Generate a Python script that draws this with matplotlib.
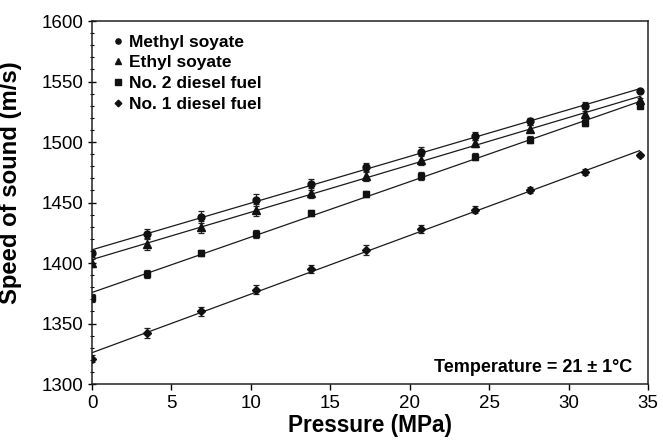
import numpy as np
import matplotlib
matplotlib.use("Agg")
import matplotlib.pyplot as plt
from matplotlib.ticker import MultipleLocator

plt.rcParams['font.family'] = ['Liberation Sans', 'DejaVu Sans']

pressure = [0, 3.45, 6.89, 10.34, 13.79, 17.24, 20.68, 24.13, 27.58, 31.03, 34.47]
methyl = [1408, 1424, 1438, 1452, 1465, 1479, 1492, 1505, 1517, 1530, 1542]
ethyl = [1400, 1416, 1430, 1444, 1458, 1472, 1485, 1499, 1511, 1523, 1535]
diesel2 = [1371, 1391, 1408, 1424, 1441, 1457, 1472, 1488, 1502, 1516, 1530]
diesel1 = [1321, 1342, 1360, 1378, 1395, 1411, 1428, 1444, 1460, 1475, 1489]
err_methyl = [3, 4.5, 5, 5, 4.5, 4, 3.5, 3.5, 3, 3, 1]
err_ethyl = [3, 5, 5, 5, 4, 4, 4, 3, 3, 3, 1]
err_diesel2 = [3, 3, 2.5, 3, 2.5, 2.5, 3, 2.5, 3, 3, 1]
err_diesel1 = [3, 4, 3.5, 4, 3.5, 4, 3.5, 3, 2.5, 2.5, 1]
labels = ["Methyl soyate", "Ethyl soyate", "No. 2 diesel fuel", "No. 1 diesel fuel"]

series = [methyl, ethyl, diesel2, diesel1]
errs = [err_methyl, err_ethyl, err_diesel2, err_diesel1]
markers = ['o', '^', 's', 'D']
msizes = [5, 5.5, 5, 4.5]

fig = plt.figure(figsize=(6.63, 4.40), dpi=100)
ax = fig.add_axes([92/663, 1-384/440, (648-92)/663, (384-21)/440])

x = np.array(pressure)
handles = []
for vals, e, m, ms, lab in zip(series, errs, markers, msizes, labels):
    y = np.array(vals)
    k, b = np.polyfit(x, y, 1)
    xx = np.array([0, x.max()])
    ax.plot(xx, k*xx + b, color='#1a1a1a', lw=0.9, zorder=2)
    ax.errorbar(x, y, yerr=e, fmt=m, ms=ms, color='#111111', ecolor='#222222',
                elinewidth=0.9, capsize=2.2, capthick=0.9, zorder=3)
    h, = ax.plot([], [], m, ms=ms*0.75, color='#111111', linestyle='none', label=lab)
    handles.append(h)

ax.set_xlim(0, 35)
ax.set_ylim(1300, 1600)
ax.xaxis.set_major_locator(MultipleLocator(5))
ax.yaxis.set_major_locator(MultipleLocator(50))
ax.yaxis.set_minor_locator(MultipleLocator(10))
ax.tick_params(axis='x', which='major', direction='out', length=4, width=1, labelsize=13.5, pad=4,
               labelcolor='black')
ax.tick_params(axis='y', which='major', direction='inout', length=6, width=1, labelsize=13.5, pad=3,
               labelcolor='black')
ax.tick_params(axis='y', which='minor', direction='inout', length=3, width=0.8)
for lbl in ax.get_xticklabels() + ax.get_yticklabels():
    lbl.set_fontweight('medium')
for sp in ax.spines.values():
    sp.set_linewidth(1.1)
    sp.set_color('#222222')

ax.set_xlabel("Pressure (MPa)", fontsize=16.3, fontweight='bold', labelpad=1.5)
ax.set_ylabel("Speed of sound (m/s)", fontsize=17.2, fontweight='bold', labelpad=5)
ax.yaxis.set_label_coords(-0.125, 0.556)

leg = ax.legend(handles=handles, loc='upper left', frameon=False,
                prop={'size': 12.5, 'weight': 'bold'}, handlelength=0.6,
                handletextpad=0.35, labelspacing=0.32, borderaxespad=0.3,
                bbox_to_anchor=(0.0156, 0.996))

ax.text(0.971, 0.033, "Temperature = 21 ± 1°C", transform=ax.transAxes,
        ha='right', va='baseline', fontsize=13, fontweight='bold')

fig.savefig("out.png", dpi=100)
